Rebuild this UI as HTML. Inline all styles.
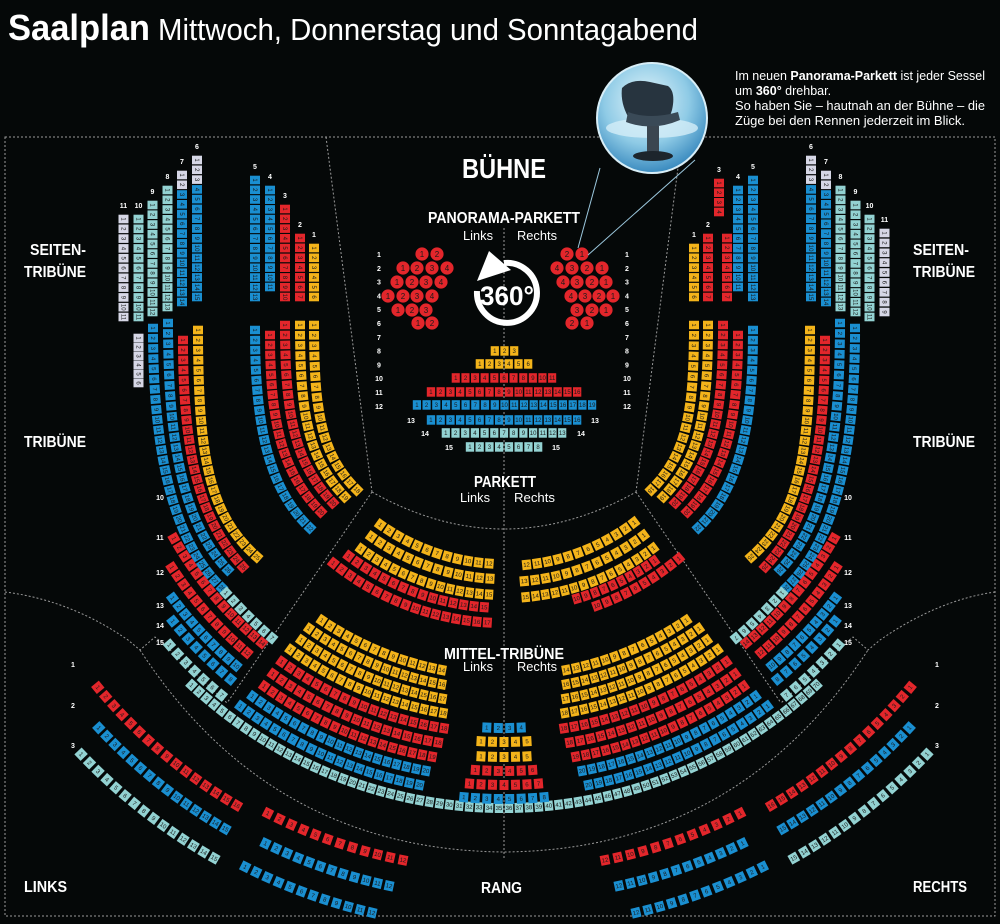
<!DOCTYPE html>
<html><head><meta charset="utf-8"><style>
html,body{margin:0;padding:0;background:#050808;}
svg{display:block}
.h{font-family:"Liberation Sans Narrow","Liberation Sans",sans-serif;font-weight:bold;fill:#fff}
.l{font-family:"Liberation Sans Narrow","Liberation Sans",sans-serif;fill:#fff}
.rl{font-family:"Liberation Sans",sans-serif;fill:#fff;font-size:7px;font-weight:bold}
.sn{font-family:"Liberation Sans Narrow","Liberation Sans",sans-serif;font-size:6px;fill:#1a1a1a;text-anchor:middle}
</style></head><body>
<svg id="s" width="1000" height="924" viewBox="0 0 1000 924" xmlns="http://www.w3.org/2000/svg">
<defs>
<radialGradient id="pg" cx="0.45" cy="0.35" r="0.7">
<stop offset="0" stop-color="#e6f6fb"/><stop offset="0.55" stop-color="#8fcbe6"/><stop offset="1" stop-color="#2b7fb8"/>
</radialGradient>
</defs>
<rect width="1000" height="924" fill="#050808"/>
<g fill="none" stroke="#9a9a9a" stroke-width="1" stroke-dasharray="2 2">
<path d="M5,137 H995 V916 H5 Z"/>
<path d="M326,137 L372,492"/>
<path d="M682,137 L636,492"/>
<path d="M372,492 Q504,566 636,492"/>
<path d="M372,492 L227,703"/>
<path d="M636,492 L781,703"/>
<path d="M5,592 Q70,600 128,640 L140,650 L155,637 L165,645 L227,703"/>
<path d="M995,592 Q938,600 880,640 L868,650 L853,637 L843,645 L781,703"/>
<path d="M140,650 Q270,850 504,852 Q738,850 868,650"/>
<path d="M504,228 V858"/>
</g>
<g id="seats"></g>
<line x1="578" y1="248" x2="600" y2="168" stroke="#9cc8de" stroke-width="1"/>
<line x1="588" y1="255" x2="695" y2="160" stroke="#9cc8de" stroke-width="1"/>
<circle cx="652" cy="118" r="55" fill="url(#pg)" stroke="#d8eef7" stroke-width="2"/>
<ellipse cx="652" cy="128" rx="46" ry="10" fill="#d5eef8" opacity="0.8"/>
<path d="M622,88 Q632,78 650,82 L668,86 Q676,92 672,110 L668,122 Q650,128 630,120 Q620,104 622,88 Z" fill="#27343f"/>
<path d="M628,112 Q650,120 678,112 L680,120 Q652,132 626,122 Z" fill="#3a4a57"/>
<rect x="647" y="126" width="12" height="28" fill="#3b4650"/>
<ellipse cx="653" cy="156" rx="20" ry="5" fill="#1d252c"/>
<text class="h" x="8" y="40" font-size="36" textLength="142" lengthAdjust="spacingAndGlyphs">Saalplan</text>
<text class="l" x="158" y="40" font-size="31" textLength="540" lengthAdjust="spacingAndGlyphs">Mittwoch, Donnerstag und Sonntagabend</text>
<g class="l" font-size="12.5">
<text x="735" y="80" textLength="250" lengthAdjust="spacingAndGlyphs">Im neuen <tspan font-weight="bold">Panorama-Parkett</tspan> ist jeder Sessel</text>
<text x="735" y="95">um <tspan font-weight="bold">360°</tspan> drehbar.</text>
<text x="735" y="110" textLength="250" lengthAdjust="spacingAndGlyphs">So haben Sie – hautnah an der Bühne – die</text>
<text x="735" y="125" textLength="230" lengthAdjust="spacingAndGlyphs">Züge bei den Rennen jederzeit im Blick.</text>
</g>
<text class="h" x="462" y="178" font-size="28" textLength="84" lengthAdjust="spacingAndGlyphs">BÜHNE</text>
<text class="h" x="428" y="223" font-size="16" textLength="152" lengthAdjust="spacingAndGlyphs">PANORAMA-PARKETT</text>
<text class="l" x="463" y="240" font-size="13" textLength="30" lengthAdjust="spacingAndGlyphs">Links</text>
<text class="l" x="517" y="240" font-size="13" textLength="40" lengthAdjust="spacingAndGlyphs">Rechts</text>
<text class="h" x="474" y="487" font-size="16" textLength="62" lengthAdjust="spacingAndGlyphs">PARKETT</text>
<text class="l" x="460" y="502" font-size="13" textLength="30" lengthAdjust="spacingAndGlyphs">Links</text>
<text class="l" x="514" y="502" font-size="13" textLength="41" lengthAdjust="spacingAndGlyphs">Rechts</text>
<text class="h" x="444" y="659" font-size="16" textLength="120" lengthAdjust="spacingAndGlyphs">MITTEL-TRIBÜNE</text>
<text class="l" x="463" y="671" font-size="13" textLength="30" lengthAdjust="spacingAndGlyphs">Links</text>
<text class="l" x="517" y="671" font-size="13" textLength="40" lengthAdjust="spacingAndGlyphs">Rechts</text>
<text class="h" x="30" y="255" font-size="16" textLength="56" lengthAdjust="spacingAndGlyphs">SEITEN-</text>
<text class="h" x="24" y="277" font-size="16" textLength="62" lengthAdjust="spacingAndGlyphs">TRIBÜNE</text>
<text class="h" x="913" y="255" font-size="16" textLength="56" lengthAdjust="spacingAndGlyphs">SEITEN-</text>
<text class="h" x="913" y="277" font-size="16" textLength="62" lengthAdjust="spacingAndGlyphs">TRIBÜNE</text>
<text class="h" x="24" y="447" font-size="16" textLength="62" lengthAdjust="spacingAndGlyphs">TRIBÜNE</text>
<text class="h" x="913" y="447" font-size="16" textLength="62" lengthAdjust="spacingAndGlyphs">TRIBÜNE</text>
<text class="h" x="24" y="892" font-size="16" textLength="43" lengthAdjust="spacingAndGlyphs">LINKS</text>
<text class="h" x="481" y="893" font-size="16" textLength="41" lengthAdjust="spacingAndGlyphs">RANG</text>
<text class="h" x="913" y="892" font-size="16" textLength="54" lengthAdjust="spacingAndGlyphs">RECHTS</text>
<path d="M504,263 A30,30 0 1 1 477,291" fill="none" stroke="#fff" stroke-width="6"/>
<polygon points="477,281 489,251 511,270" fill="#fff"/>
<text class="h" x="507" y="305" font-size="27" text-anchor="middle" textLength="54" lengthAdjust="spacingAndGlyphs">360°</text>
<g id="rl" class="rl"></g>
</svg>
<script>
(function(){
var NS="http://www.w3.org/2000/svg",G=document.getElementById('seats'),RL=document.getElementById('rl');
var CX=504,CY=350,M=1008;
var COL={Y:'#f4b41a',R:'#e3262b',B:'#1a8fd1',L:'#93d2d2',V:'#d6d7e6'};
function el(n,a,p){var e=document.createElementNS(NS,n);for(var k in a)e.setAttribute(k,a[k]);(p||G).appendChild(e);return e;}
function seat(x,y,rot,w,h,c,num){
 var g=el('g',{transform:'translate('+x.toFixed(1)+','+y.toFixed(1)+') rotate('+rot.toFixed(1)+')'});
 el('rect',{x:(-w/2).toFixed(1),y:(-h/2).toFixed(1),width:w.toFixed(1),height:h.toFixed(1),fill:COL[c]||c},g);
 if(num!=null){var t=el('text',{x:0,y:2,'class':'sn'},g);t.textContent=num;}
}
function lab(x,y,s){var t=el('text',{x:x,y:y,'text-anchor':'middle'},RL);t.textContent=s;}
function arc(r,a0,a1,n,c,mir){
 var span=Math.abs(a1-a0)*Math.PI/180*r, pitch=n>1?span/(n-1):10, w=Math.min(pitch-1.6,9);
 for(var i=0;i<n;i++){var a=n==1?a0:a0+(a1-a0)*i/(n-1); if(mir)a=-a; var rd=a*Math.PI/180;
  seat(CX+r*Math.sin(rd),CY+r*Math.cos(rd),-a,w,10,c,i+1);}
}
function both(r,a0,a1,n,c){arc(r,a0,a1,n,c,false);arc(r,a0,a1,n,c,true);}
function prow(p,c,n,colf,mir){
 var q=p.slice(); if(mir){for(var i=0;i<q.length;i+=2)q[i]=M-q[i];}
 var d='M'+q[0]+','+q[1]+' C'+q[2]+','+q[3]+' '+q[4]+','+q[5]+' '+q[6]+','+q[7];
 var path=el('path',{d:d,fill:'none',stroke:'none'});
 var L=path.getTotalLength(); if(!n)n=Math.round(L/10.2)+1;
 for(var i=0;i<n;i++){var l=n==1?0:L*i/(n-1);var pt=path.getPointAtLength(l);
  var a=path.getPointAtLength(Math.max(l-0.5,0)),b=path.getPointAtLength(Math.min(l+0.5,L));
  var ang=Math.atan2(b.y-a.y,b.x-a.x)*180/Math.PI;
  seat(pt.x,pt.y,ang,8.6,10,colf?colf(i):c,i+1);}
}
function col(x,t,b,n,c,colf,mir){prow([x,t+5,x,t+5,x,b-5,x,b-5],c,n,colf,mir);}
var cols=[[123.5,214,322,11,'V','11'],[138.5,214,322,11,'L','10'],[152.5,200,317,12,'L','9'],[167.5,185,312,13,'L','8'],
[182,170,307,14,'B','7',2],[197,155,302,15,'B','6',3],[255,175,302,13,'B','5'],[270,185,292,11,'B','4'],
[285,204,302,10,'R','3'],[300,233,302,7,'R','2'],[314,243,302,6,'Y','1']];
cols.forEach(function(c){
 var f=c[6]?function(i){return i<c[6]?'V':c[4];}:null;
 col(c[0],c[1],c[2],c[3],c[4],f,false);
 lab(c[0],c[1]-6,c[5]);
 if(c[5]=='3'){ col(M-c[0]+4,233,302,7,'R',null,false); col(M-c[0]-4,178,217,4,'R',null,false); lab(M-c[0]-4,172,'3');}
 else if(c[5]=='11'){ col(M-c[0],228,317,9,'V',null,false); lab(M-c[0],222,'11');}
 else { col(c[0],c[1],c[2],c[3],c[4],f,true); lab(M-c[0],c[1]-6,c[5]);}
});
col(138.5,333,388,6,'V');
var tr=[
 [[153,328,153,450,172,540,222,588],'B'],
 [[226,593,240,608,255,624,272,638],'L'],
 [[168,323,168,450,185,525,228,570],'B'],
 [[183,340,183,455,200,520,243,567],'R'],
 [[198,330,198,460,210,515,257,557],'Y'],
 [[255,330,255,430,270,490,310,528],'B'],
 [[270,335,270,430,285,475,321,512],'R'],
 [[285,325,285,425,298,465,333,503],'R'],
 [[300,325,300,420,310,460,345,497],'Y'],
 [[314,325,314,415,322,455,357,490],'Y']];
tr.forEach(function(t){prow(t[0],t[1],0,null,false);prow(t[0],t[1],0,null,true);});
both(380,-60.3,-39.6,14,'R');both(397,-56.8,-40.3,12,'R');both(414,-53.2,-40.3,10,'B');both(428,-50.7,-39.7,8,'B');both(446,-48.6,-39.3,7,'L');
[['10',500],['11',540],['12',575],['13',608],['14',628],['15',645]].forEach(function(a){lab(160,a[1],a[0]);lab(M-160,a[1],a[0]);});
both(326,-34,-11,14,'Y');both(340,-35,-10.5,16,'Y');both(354,-35,-10,17,'Y');both(368,-35.5,-9.5,18,'Y');
both(383,-35.5,-9,18,'R');both(398,-35.5,-9.5,18,'R');both(413,-35.5,-10,19,'R');
both(428,-36,-10.5,20,'B');both(443,-36.5,-11,20,'B');
arc(458,-43,43,70,'L');
[[378,'B',4],[392,'Y',5],[407,'Y',5],[421,'R',6],[435,'R',7],[449,'B',8]].forEach(function(r){
 var h=((r[2]-1)*11.5/2)/r[0]*180/Math.PI; arc(r[0],-h,h,r[2],r[1]);});
arc(214,-35.3,-4,12,'Y');arc(229,-35.4,-3.5,13,'Y');arc(245,-35.8,-3.5,15,'Y');arc(258,-37,-4.4,15,'R');arc(273,-38.7,-3.5,17,'R');
arc(216,37,6,12,'Y');arc(232,37,5,13,'Y');arc(248,37,5,15,'Y');arc(259,35.5,16.3,10,'R');arc(272,40,20,10,'R');
both(528,-50.3,-30.4,16,'R');both(554,-47,-30.2,15,'B');both(585,-46.3,-29.7,15,'L');
both(520,-27,-11.2,12,'R');both(548,-25.8,-12.1,12,'B');both(578,-26.6,-13.2,12,'B');
[['1',667],['2',708],['3',748]].forEach(function(a){lab(73,a[1],a[0]);lab(M-73+2,a[1],a[0]);});
[[351,490,519,3,'Y'],[364,475,533,6,'Y'],[378,451,557,11,'R'],[392,426,582,16,'R'],[405,412,597,19,'B'],[420,426,582,16,'B'],[433,441,567,13,'L'],[447,465,543,8,'L']].forEach(function(r){
 var pw=(r[2]-r[1])/r[3];for(var i=0;i<r[3];i++)seat(r[1]+pw*(i+.5),r[0],0,pw-1.5,9.5,r[4],i+1);});
var circ=[[254,[422,437],[567,582]],[268,[403,417,432,447],[557,572,587,602]],[282,[397,412,426,441],[563,577,592,606]],
[296,[388,403,417,432],[571,585,599,613]],[310,[398,412,426],[577,592,606]],[323,[418,432],[572,587]]];
circ.forEach(function(r){
 r[1].forEach(function(x,i){el('circle',{cx:x,cy:r[0],r:6.6,fill:'#e3262b'});
  var t=el('text',{x:x,y:r[0]+3,'class':'sn',style:'font-size:8px'});t.textContent=i+1;});
 var n=r[2].length;
 r[2].forEach(function(x,i){el('circle',{cx:x,cy:r[0],r:6.6,fill:'#e3262b'});
  var t=el('text',{x:x,y:r[0]+3,'class':'sn',style:'font-size:8px'});t.textContent=n-i;});
});
for(var i=1;i<=12;i++){var y=254+(i-1)*13.8;lab(379,y+3,''+i);lab(627,y+3,''+i);}
lab(411,423,'13');lab(595,423,'13');lab(425,436,'14');lab(581,436,'14');lab(449,450,'15');lab(556,450,'15');
})();
</script>
</body></html>
